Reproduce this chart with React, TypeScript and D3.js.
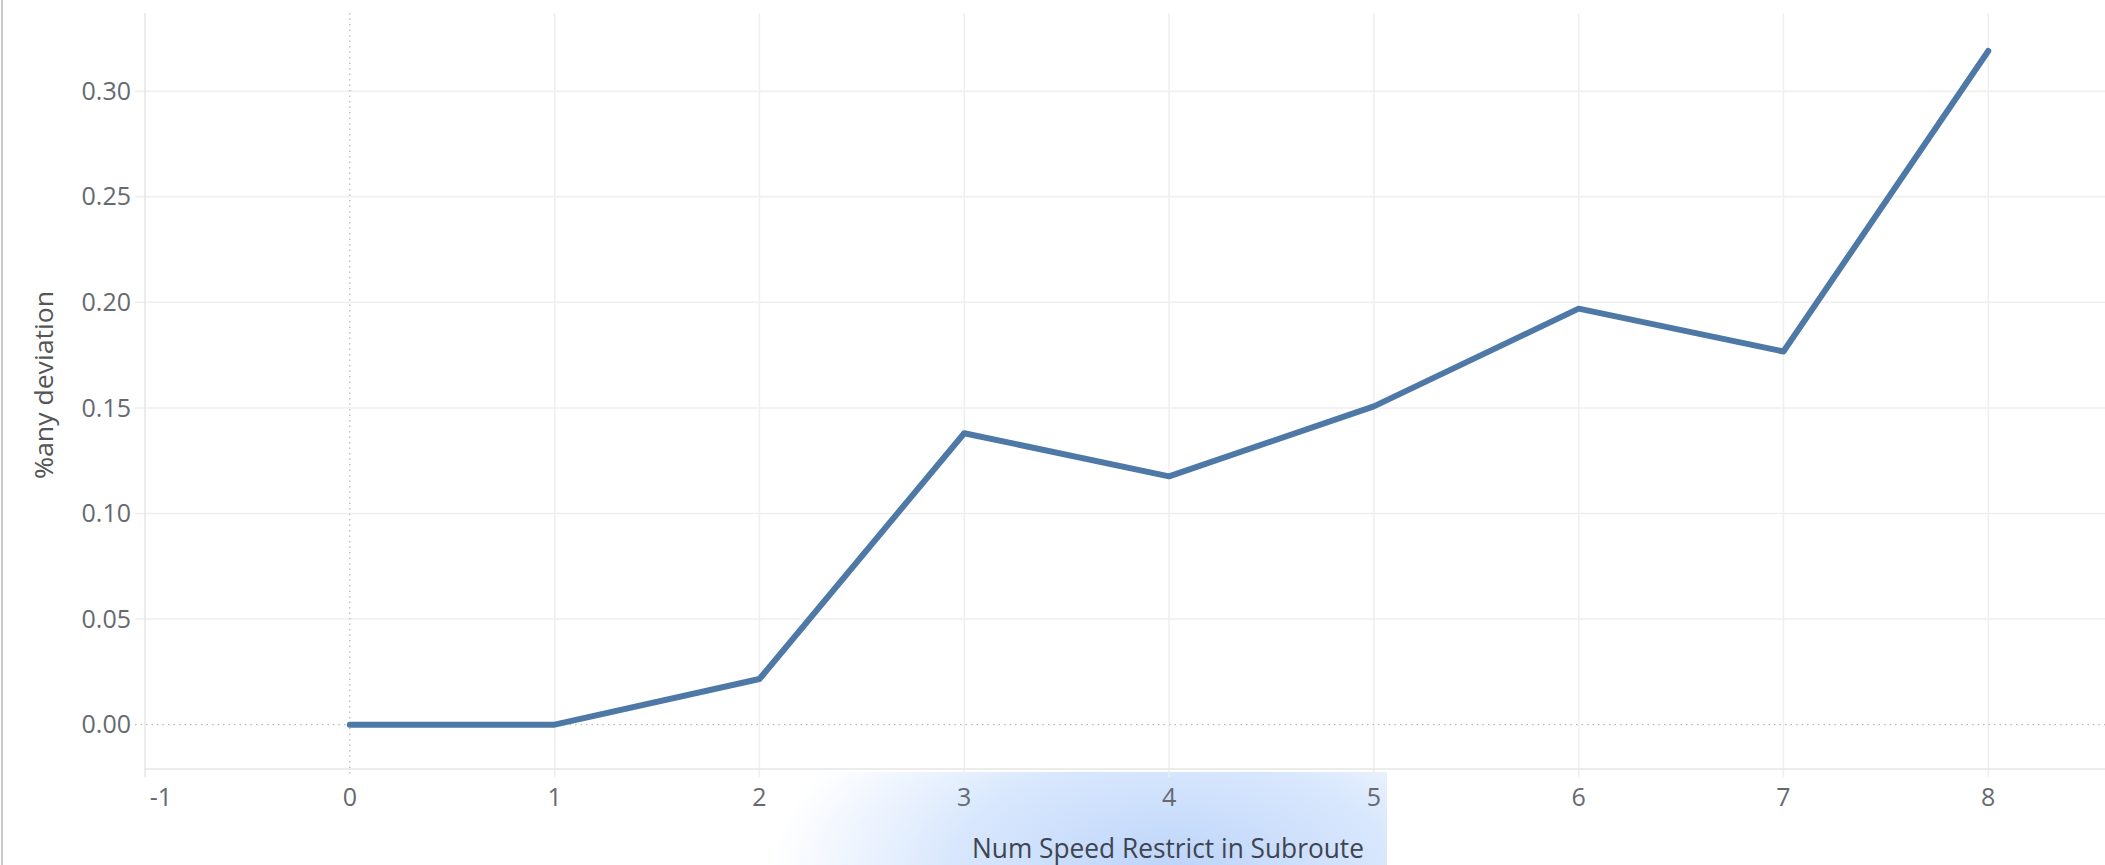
import React from "react";
import * as d3 from "d3";

const xValues = [0, 1, 2, 3, 4, 5, 6, 7, 8];
const yValues = [0.0, 0.0, 0.0216, 0.138, 0.1176, 0.1507, 0.197, 0.1767, 0.319];
const xTicks = [-1, 0, 1, 2, 3, 4, 5, 6, 7, 8];
const yTicks = [0, 0.05, 0.1, 0.15, 0.2, 0.25, 0.3];
const xTitle = "Num Speed Restrict in Subroute";
const yTitle = "%any deviation";

const W = 2105;
const H = 865;
const left = 145;
const top = 13;
const bottom = 769;
const font = "'Open Sans', 'DejaVu Sans', sans-serif";

export default function App() {
  const x = d3.scaleLinear().domain([-1, 8.57]).range([left, W]);
  const y = d3.scaleLinear().domain([-0.021, 0.337]).range([bottom, top]);
  const line = d3
    .line<number>()
    .x((_, i) => x(xValues[i]))
    .y((d) => y(d));
  const path = line(yValues) || "";
  const textColor = "#666a70";
  return (
    <svg
      width={W}
      height={H}
      style={{ position: "absolute", left: 0, top: 0, background: "#fff" }}
    >
      <defs>
        <radialGradient
          id="hl"
          gradientUnits="userSpaceOnUse"
          cx={0}
          cy={0}
          r={1}
          gradientTransform="translate(1170,875) scale(400,210)"
        >
          <stop offset="0" stopColor="#bcd4fa" />
          <stop offset="0.55" stopColor="#d8e7fd" />
          <stop offset="1" stopColor="#ffffff" />
        </radialGradient>
      </defs>
      {/* left border */}
      <line x1={2} x2={2} y1={0} y2={H} stroke="#c8c8c8" strokeWidth={2} />
      {/* highlight behind x title */}
      <rect x={765} y={772} width={622} height={H - 772} fill="url(#hl)" />
      {/* horizontal gridlines */}
      {yTicks.map((t) =>
        t === 0 ? null : (
          <line
            key={"gy" + t}
            x1={left - 10}
            x2={W}
            y1={y(t)}
            y2={y(t)}
            stroke="#efefef"
            strokeWidth={1.5}
          />
        )
      )}
      {/* vertical gridlines */}
      {xTicks.map((t) =>
        t === 0 || t === -1 ? null : (
          <line
            key={"gx" + t}
            x1={x(t)}
            x2={x(t)}
            y1={top}
            y2={bottom + 8}
            stroke="#efefef"
            strokeWidth={1.5}
          />
        )
      )}
      {/* zero lines dotted */}
      <line
        x1={left - 10}
        x2={W}
        y1={y(0)}
        y2={y(0)}
        stroke="#bbb"
        strokeWidth={1.3}
        strokeDasharray="1.5 4"
      />
      <line
        x1={x(0)}
        x2={x(0)}
        y1={top}
        y2={bottom + 8}
        stroke="#bbb"
        strokeWidth={1.3}
        strokeDasharray="1.5 4"
      />
      {/* axes */}
      <line x1={left} x2={left} y1={top} y2={bottom + 8} stroke="#e6e6e6" strokeWidth={1.5} />
      <line x1={left} x2={W} y1={bottom} y2={bottom} stroke="#e6e6e6" strokeWidth={1.5} />
      {/* y tick labels */}
      {yTicks.map((t) => (
        <text
          key={"ty" + t}
          x={131}
          y={y(t)}
          dy="0.35em"
          textAnchor="end"
          fontFamily={font}
          fontSize={25}
          fill={textColor}
        >
          {d3.format(".2f")(t)}
        </text>
      ))}
      {/* x tick labels */}
      {xTicks.map((t) => (
        <text
          key={"tx" + t}
          x={x(t) + (t === -1 ? 16 : 0)}
          y={797}
          dy="0.35em"
          textAnchor="middle"
          fontFamily={font}
          fontSize={25}
          fill={textColor}
        >
          {t}
        </text>
      ))}
      {/* data line */}
      <path
        d={path}
        fill="none"
        stroke="#4e79a7"
        strokeWidth={6}
        strokeLinejoin="round"
        strokeLinecap="round"
      />
      {/* axis titles */}
      <text
        x={1168}
        y={848}
        dy="0.35em"
        textAnchor="middle"
        fontFamily={font}
        fontSize={28}
        fill="#3f4550"
        textLength={392}
        lengthAdjust="spacingAndGlyphs"
      >
        {xTitle}
      </text>
      <text
        transform={`translate(44,385) rotate(-90)`}
        dy="0.35em"
        textAnchor="middle"
        fontFamily={font}
        fontSize={25}
        fill="#555"
        textLength={188}
        lengthAdjust="spacingAndGlyphs"
      >
        {yTitle}
      </text>
    </svg>
  );
}
